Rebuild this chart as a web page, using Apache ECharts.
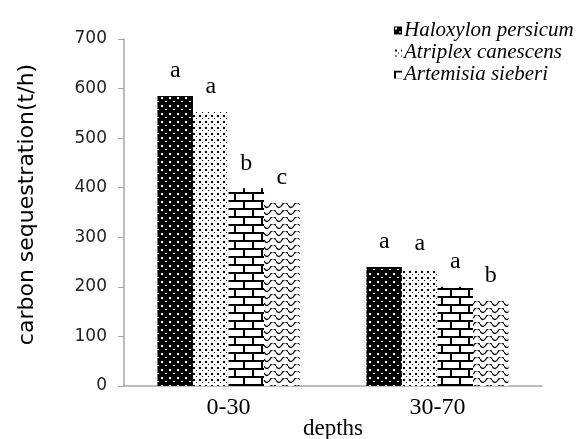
<!DOCTYPE html>
<html>
<head>
<meta charset="utf-8">
<script src="https://cdn.jsdelivr.net/npm/echarts@6/dist/echarts.min.js"></script>
<style>
  html, body { margin: 0; padding: 0; background: #fff; }
  #chart { width: 582px; height: 439px; }
</style>
</head>
<body>
<div id="chart"></div>
<script>
// data
var depths = ["0-30", "30-70"];
var speciesNames = ["Haloxylon persicum", "Atriplex canescens", "Artemisia sieberi", "fourth"];
var haloxylon = [585, 240];
var atriplex = [553, 236];
var artemisia = [399, 200];
var fourth = [369, 173];
var letters = [["a", "a"], ["a", "a"], ["b", "a"], ["c", "b"]];
var yTicks = [0, 100, 200, 300, 400, 500, 600, 700];

// fill patterns drawn on small canvases
function makeTile(w, h, draw) {
  var c = document.createElement("canvas");
  c.width = w; c.height = h;
  draw(c.getContext("2d"));
  return c;
}
var dotsOnBlack = makeTile(8, 8, function (g) {
  g.fillStyle = "#000"; g.fillRect(0, 0, 8, 8);
  g.fillStyle = "#fff";
  g.fillRect(1, 1, 2, 2);
  g.fillRect(5, 5, 2, 1);
});
var dotsOnWhite = makeTile(6, 6, function (g) {
  g.fillStyle = "#fff"; g.fillRect(0, 0, 6, 6);
  g.fillStyle = "#000";
  g.fillRect(1, 1, 2, 2);
  g.fillRect(4, 4, 1, 1);
});
var bricks = makeTile(18, 16, function (g) {
  g.fillStyle = "#fff"; g.fillRect(0, 0, 18, 16);
  g.fillStyle = "#000";
  g.fillRect(0, 0, 18, 2);
  g.fillRect(0, 8, 18, 2);
  g.fillRect(0, 0, 2, 8);
  g.fillRect(9, 8, 2, 8);
});
var waves = makeTile(12, 7, function (g) {
  g.fillStyle = "#fff"; g.fillRect(0, 0, 12, 7);
  g.strokeStyle = "#000"; g.lineWidth = 1.3;
  g.beginPath();
  g.moveTo(0, 2);
  g.quadraticCurveTo(3, 7, 6, 2);
  g.quadraticCurveTo(9, -3, 12, 2);
  g.stroke();
});
var fills = [dotsOnBlack, dotsOnWhite, bricks, waves];
var values = [haloxylon, atriplex, artemisia, fourth];

var chart = echarts.init(document.getElementById("chart"));

var series = values.map(function (vals, i) {
  return {
    name: speciesNames[i],
    type: "bar",
    barGap: "0%",
    barCategoryGap: "32%",
    itemStyle: { color: { image: fills[i], repeat: "repeat" } },
    label: {
      show: true,
      position: "top",
      distance: 13,
      color: "#000",
      fontFamily: "Liberation Serif",
      fontSize: 24,
      formatter: function (p) { return letters[i][p.dataIndex]; }
    },
    data: vals,
    animation: false
  };
});

var option = {
  backgroundColor: "#fff",
  animation: false,
  grid: { left: 124, right: 40, top: 39, bottom: 53, outerBoundsMode: "none", containLabel: false },
  legend: {
    data: speciesNames.slice(0, 3),
    orient: "vertical",
    left: 389,
    top: 15,
    itemGap: 1,
    itemWidth: 8,
    itemHeight: 8,
    icon: "rect",
    textStyle: {
      fontFamily: "Liberation Serif",
      fontStyle: "italic",
      fontSize: 21,
      color: "#000",
      padding: [0, 0, 0, -3]
    }
  },
  xAxis: {
    type: "category",
    data: depths,
    name: "depths",
    nameLocation: "middle",
    nameGap: 31,
    nameMoveOverlap: false,
    nameTextStyle: { fontFamily: "Liberation Serif", fontSize: 23, color: "#000" },
    axisLine: { lineStyle: { color: "#a6a6a6", width: 1.5 } },
    axisTick: { show: false },
    axisLabel: { fontFamily: "Liberation Serif", fontSize: 24, color: "#000", margin: 10 }
  },
  yAxis: {
    type: "value",
    min: yTicks[0],
    max: yTicks[yTicks.length - 1],
    interval: 100,
    name: "carbon sequestration(t/h)",
    nameLocation: "middle",
    nameGap: 86,
    nameTextStyle: { fontFamily: "DejaVu Sans", fontSize: 22, color: "#000", padding: [0, 0, 0, 16] },
    axisLine: { show: true, lineStyle: { color: "#a6a6a6", width: 1.5 } },
    axisTick: { show: true, length: 6, lineStyle: { color: "#a6a6a6" } },
    axisLabel: { fontFamily: "DejaVu Sans", fontSize: 17, color: "#222", margin: 17 },
    splitLine: { show: false }
  },
  series: series
};

chart.setOption(option);
</script>
</body>
</html>
